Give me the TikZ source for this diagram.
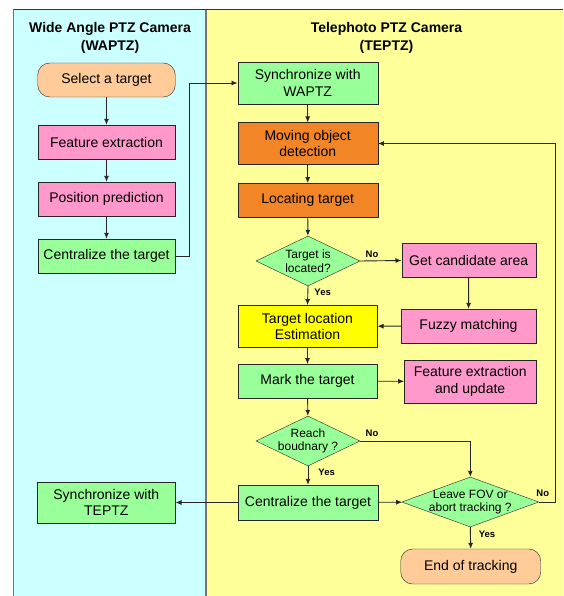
\documentclass[tikz,border=0pt]{standalone}
\usepackage{fontspec}
\setmainfont{Liberation Sans}
\usetikzlibrary{arrows.meta,shapes.geometric}

\definecolor{wapcyan}{HTML}{CCFFFF}
\definecolor{tepyellow}{HTML}{FFFF99}
\definecolor{boxgreen}{HTML}{99FF99}
\definecolor{boxpink}{HTML}{FF99CC}
\definecolor{boxorange}{RGB}{242,133,38}
\definecolor{boxyellow}{HTML}{FFFF00}
\definecolor{boxpeach}{HTML}{FFCC99}

\begin{document}
\begin{tikzpicture}[x=1pt,y=-1pt,>={Latex[length=6pt,width=5pt]},
  box/.style={draw=black!85, fill=#1, minimum width=139pt, minimum height=34pt,
    inner sep=1pt, align=center, font=\fontsize{14}{16.5}\selectfont},
  term/.style={box=boxpeach, rounded corners=12pt},
  decision/.style={diamond, draw=black!85, fill=boxgreen, inner sep=0pt,
    minimum width=104pt, minimum height=50pt},
  dtext/.style={font=\fontsize{12}{13.5}\selectfont, align=center},
  lbl/.style={font=\bfseries\fontsize{9.5}{11}\selectfont, inner sep=1pt},
  head/.style={font=\bfseries\fontsize{14}{17.4}\selectfont, align=center},
  conn/.style={->, draw=black!85, line width=0.9pt}]
  \useasboundingbox (0,0) rectangle (563,596);
  \fill[wapcyan] (13.5,9.5) rectangle (206,596);
  \fill[tepyellow] (206,9.5) rectangle (563,596);
  \draw[black!55, line width=1.6pt] (13.5,596) -- (13.5,9.5);
  \draw[black!55, line width=1.6pt] (206,9.5) -- (206,596);
  \draw[black!80, line width=1.6pt] (13.5,9.5) -- (563,9.5);
  \node[head] (hwap) at (110,38) {Wide Angle PTZ Camera\\(WAPTZ)};
  \node[head] (htep) at (386.5,38) {Telephoto PTZ Camera\\(TEPTZ)};

  \node[term, minimum width=137.5pt] (select) at (106.5,80) {Select a target};
  \node[box=boxpink, minimum width=137.5pt] (featW) at (106.5,142) {Feature extraction};
  \node[box=boxpink, minimum width=137.5pt] (pred) at (106.5,199) {Position prediction};
  \node[box=boxgreen, minimum width=137.5pt] (cenW) at (106.5,256) {Centralize the target};
  \node[box=boxgreen, minimum width=138pt, minimum height=41pt] (syncT) at (106.3,502.5) {Synchronize with\\TEPTZ};

  \node[box=boxgreen, minimum width=140pt, minimum height=41.6pt] (syncW) at (307.7,83) {Synchronize with\\WAPTZ};
  \node[box=boxorange, minimum width=140pt, minimum height=41.6pt] (move) at (307.7,143.5) {Moving object\\detection};
  \node[box=boxorange, minimum width=140pt] (locate) at (307.7,200.3) {Locating target};
  \node[decision, label={[dtext]center:Target is\\located?}] (found) at (308,261) {};
  \node[box=boxyellow, minimum width=139.6pt, minimum height=42pt] (est) at (307.5,326.3) {Target location\\Estimation};
  \node[box=boxgreen, minimum width=139.6pt, minimum height=33.4pt] (mark) at (307.5,381) {Mark the target};
  \node[decision, label={[dtext]center:Reach\\boudnary ?}] (reach) at (308,441) {};
  \node[box=boxgreen, minimum width=139.4pt, minimum height=35pt] (cenT) at (308,502.5) {Centralize the target};

  \node[box=boxpink, minimum width=134pt] (cand) at (468.7,260.5) {Get candidate area};
  \node[box=boxpink, minimum width=135pt] (fuzzy) at (468.5,326) {Fuzzy matching};
  \node[box=boxpink, minimum width=131.7pt, minimum height=43.6pt] (featT) at (470.2,381.5) {Feature extraction\\and update};
  \node[decision, minimum width=137pt, label={[dtext]center:Leave FOV or\\abort tracking ?}] (fov) at (470.3,502) {};
  \node[term, minimum width=140pt, minimum height=35pt] (stop) at (470.7,566.5) {End of tracking};

  \draw[conn] (select) -- (featW);
  \draw[conn] (featW) -- (pred);
  \draw[conn] (pred) -- (cenW);
  \draw[conn] (cenW.east) -- ++(14,0) |- (syncW.west);
  \draw[conn] (syncW) -- (move);
  \draw[conn] (move) -- (locate);
  \draw[conn] (locate) -- (found);
  \draw[conn] (found.east) node[lbl, anchor=south west, xshift=4pt, yshift=2pt] {No} -- (cand.west);
  \draw[conn] (found.south) node[lbl, anchor=north west, xshift=5pt, yshift=-1pt] {Yes} -- (est.north);
  \draw[conn] (cand) -- (fuzzy);
  \draw[conn] (fuzzy) -- (est);
  \draw[conn] (est) -- (mark);
  \draw[conn] (mark) -- (featT);
  \draw[conn] (mark) -- (reach);
  \draw[conn] (reach.east) node[lbl, anchor=south west, xshift=4pt, yshift=3pt] {No} -| (fov.north);
  \draw[conn] (reach.south) node[lbl, anchor=north west, xshift=9pt, yshift=-1pt] {Yes} -- (cenT.north);
  \draw[conn] (cenT) -- (syncT);
  \draw[conn] (cenT) -- (fov);
  \draw[conn] (fov.east) node[lbl, anchor=south west, xshift=-4pt, yshift=4pt] {No} -- ++(16.7,0) |- (move.east);
  \draw[conn] (fov.south) node[lbl, anchor=north west, xshift=7pt, yshift=-2pt] {Yes} -- (stop.north);
\end{tikzpicture}
\end{document}
